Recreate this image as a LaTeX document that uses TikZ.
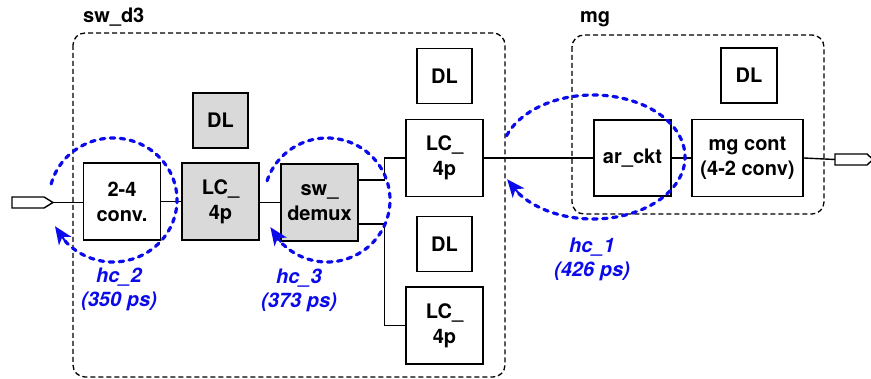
\documentclass[tikz,border=0pt]{standalone}
\usepackage{fontspec}
\setmainfont{TeX Gyre Heros}
\usetikzlibrary{arrows.meta,calc}
\definecolor{hcblue}{RGB}{10,10,235}
\definecolor{boxgray}{RGB}{217,217,217}
\begin{document}
\begin{tikzpicture}[x=1pt,y=-1pt,
  txt/.style={font=\fontsize{20}{25}\selectfont\bfseries, align=center},
  blk/.style={txt, draw, line width=1.5pt, inner sep=0pt, fill=white},
  gblk/.style={blk, fill=boxgray},
  big/.style={minimum width=77pt, minimum height=77pt},
  dlbox/.style={minimum width=55pt, minimum height=55pt},
  wire/.style={line width=1.4pt},
  group/.style={draw, dashed, line width=1.3pt, dash pattern=on 5pt off 3pt, rounded corners=12pt},
  hcarc/.style={draw=hcblue, line width=3.2pt, line cap=round, dash pattern=on 4.5pt off 5.5pt},
  hctip/.style={draw=hcblue, fill=hcblue, line width=2pt, -{Stealth[length=18pt,width=15pt,inset=5pt]}},
  hclabel/.style={font=\fontsize{20}{24}\selectfont\bfseries\itshape, text=hcblue, align=center}
]
\useasboundingbox (0,0) rectangle (871,379);

% group boxes
\draw[group] (73,33) rectangle (505,377);
\draw[group] (572,35) rectangle (824,214);
\node[txt, anchor=base west, inner sep=0pt] (lsw) at (83,23) {sw\_d3};
\node[txt, anchor=base west, inner sep=0pt] (lmg) at (580,23) {mg};

% blocks
\node[blk, big] (conv) at (122,201.5) {2-4\\conv.};
\node[gblk, big] (lc1) at (220.5,201.5) {LC\_\\4p};
\node[gblk, dlbox] (dl1) at (220.5,120.5) {DL};
\node[gblk, big] (demux) at (319.5,202.5) {sw\_\\demux};
\node[blk, dlbox] (dl2) at (444.5,76) {DL};
\node[blk, big] (lc2) at (444.5,158) {LC\_\\4p};
\node[blk, dlbox] (dl3) at (444.5,244) {DL};
\node[blk, big] (lc3) at (444.5,325.5) {LC\_\\4p};
\node[blk, minimum width=77pt, minimum height=76pt] (ar) at (632.5,158) {ar\_ckt};
\node[blk, minimum width=111pt, minimum height=77pt] (mgc) at (747.5,158) {mg cont\\(4-2 conv)};
\node[blk, minimum width=56pt, minimum height=55pt] (dl4) at (749,75.5) {DL};

% connectors (pins)
\coordinate (inpin) at (53,202.5);
\draw[line width=1.4pt, fill=white] (12,197) -- (44,197) -- (inpin) -- (44,208) -- (12,208) -- cycle;
\coordinate (outpin) at (835,159.5);
\draw[line width=1.4pt, fill=white] (outpin) -- (835,154) -- (867,154) -- (873,159.5) -- (867,165) -- (835,165) -- cycle;

% wires
\draw[wire] (inpin) -- (conv.west |- inpin);
\draw[wire] (conv) -- (lc1);
\draw[wire] (lc1.east |- demux.west) -- (demux.west);
\draw[wire] ([yshift=22.5pt]demux.east) -- ++(26,0) |- (lc2.west);
\draw[wire] ([yshift=-21.5pt]demux.east) -- ++(26,0) |- (lc3.west);
\draw[wire] (lc2.east) -- (ar.west);
\draw[wire] (ar.east) -- (mgc.west);
\draw[wire] (mgc.east) -- (outpin);

% hold-critical loops
\draw[hcarc] (113,200) ++(195:64 and 62) arc[start angle=195, end angle=505, x radius=64, y radius=62];
\path (113,200) ++(138:64 and 62) coordinate (h2a) (113,200) ++(155:64 and 62) coordinate (h2b);
\draw[hctip] (h2a) -- (h2b);

\draw[hcarc] (327,200) ++(198:63 and 62) arc[start angle=198, end angle=504, x radius=63, y radius=62];
\path (327,200) ++(137:63 and 62) coordinate (h3a) (327,200) ++(154:63 and 62) coordinate (h3b);
\draw[hctip] (h3a) -- (h3b);

\draw[hcarc] (593,157) ++(200:92 and 62) arc[start angle=200, end angle=509, x radius=92, y radius=62];
\path (593,157) ++(143:92 and 62) coordinate (h1a) (593,157) ++(159:92 and 62) coordinate (h1b);
\draw[hctip] (h1a) -- (h1b);

\node[hclabel] (hc2) at (119,289) {hc\_2\\(350 ps)};
\node[hclabel] (hc3) at (299,290) {hc\_3\\(373 ps)};
\node[hclabel] (hc1) at (592,259) {hc\_1\\(426 ps)};
\end{tikzpicture}
\end{document}
